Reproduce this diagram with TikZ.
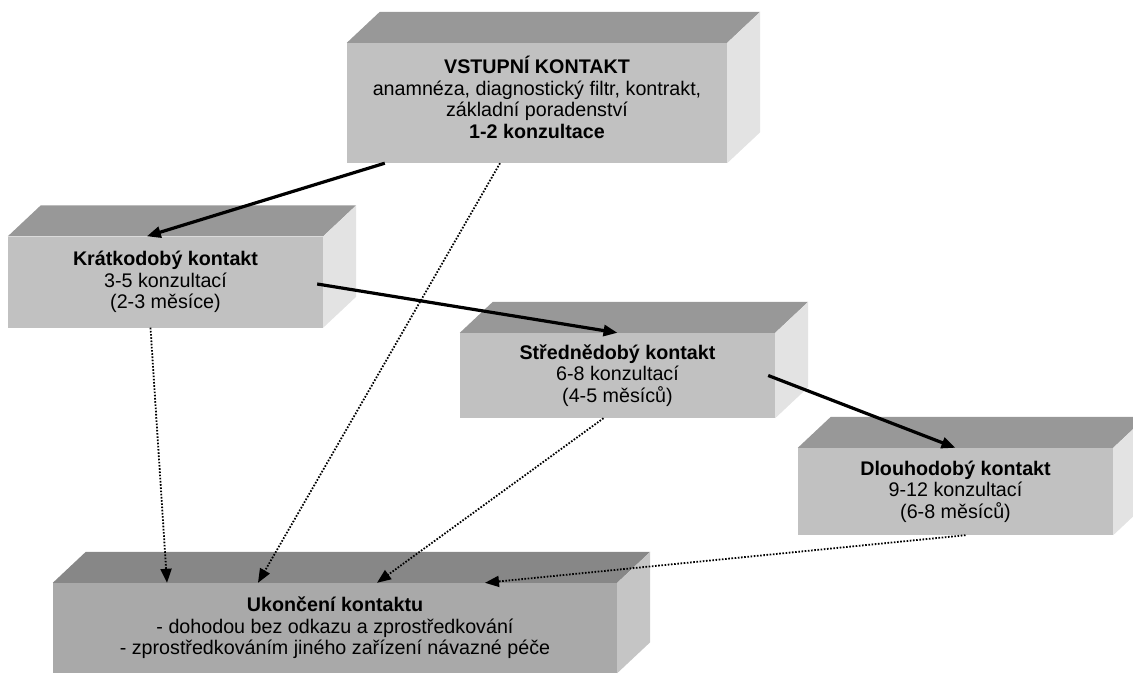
\documentclass[tikz,border=0pt]{standalone}
\usepackage{fontspec}
\setmainfont{Liberation Sans}
\usetikzlibrary{arrows.meta}

\definecolor{frontgray}{RGB}{193,193,193}
\definecolor{topgray}{RGB}{152,152,152}
\definecolor{sidegray}{RGB}{227,227,227}
\definecolor{endfront}{RGB}{169,169,169}
\definecolor{endtop}{RGB}{135,135,135}
\definecolor{endside}{RGB}{197,197,197}

\begin{document}
\begin{tikzpicture}[x=1pt,y=-1pt,>={Triangle[length=14pt,width=11pt]},
    box/.style={fill=frontgray,inner sep=0pt,align=center,minimum width=315pt,
      font=\fontsize{19.7}{21.5}\selectfont},
    endbox/.style={box,fill=endfront,minimum width=564pt,minimum height=90pt},
    flow/.style={->,line width=3.2pt},
    finish/.style={->,line width=1.8pt,dash pattern=on 1.6pt off 1.6pt}
    ]
  \path[use as bounding box,clip] (0,0) rectangle (1133,673);

  \node[box,minimum width=380pt,minimum height=120pt,text depth=11pt] (vstup) at (537,103)
    {\textbf{VSTUPNÍ KONTAKT}\\anamnéza, diagnostický filtr, kontrakt,\\základní poradenství\\\textbf{1-2 konzultace}};
  \node[box,minimum height=91pt] (kratko) at (165.5,282)
    {\textbf{Krátkodobý kontakt}\\3-5 konzultací\\(2-3 měsíce)};
  \node[box,minimum height=85pt] (stredne) at (617.5,375.5)
    {\textbf{Střednědobý kontakt}\\6-8 konzultací\\(4-5 měsíců)};
  \node[box,minimum height=87pt] (dlouho) at (955.5,491.5)
    {\textbf{Dlouhodobý kontakt}\\9-12 konzultací\\(6-8 měsíců)};
  \node[endbox] (konec) at (335,628)
    {\textbf{Ukončení kontaktu}\\- dohodou bez odkazu a zprostředkování\\- zprostředkováním jiného zařízení návazné péče};

  % top and side faces of the blocks
  \foreach \n/\tc/\sc in {vstup/topgray/sidegray,kratko/topgray/sidegray,
      stredne/topgray/sidegray,dlouho/topgray/sidegray,konec/endtop/endside}{
    \fill[\tc] (\n.north west) -- ++(33,-31) -- ([shift={(33,-31)}]\n.north east)
      -- (\n.north east) -- cycle;
    \fill[\sc] (\n.north east) -- ++(33,-31) -- ([shift={(33,-31)}]\n.south east)
      -- (\n.south east) -- cycle;
  }

  \draw[flow] ([xshift=38pt]vstup.south west) -- ([xshift=139pt]kratko.north west);
  \draw[flow] ([shift={(-6,2)}]kratko.east) -- (stredne.north);
  \draw[flow] ([xshift=-7pt]stredne.east) -- (dlouho.north);

  \draw[finish] ([xshift=-15pt]kratko.south) -- ([xshift=-168pt]konec.north);
  \draw[finish] ([xshift=-37pt]vstup.south) -- ([xshift=-77pt]konec.north);
  \draw[finish] ([xshift=-14pt]stredne.south) -- ([xshift=42pt]konec.north);
  \draw[finish] ([xshift=10pt]dlouho.south) -- ([xshift=150pt]konec.north);

\end{tikzpicture}
\end{document}
